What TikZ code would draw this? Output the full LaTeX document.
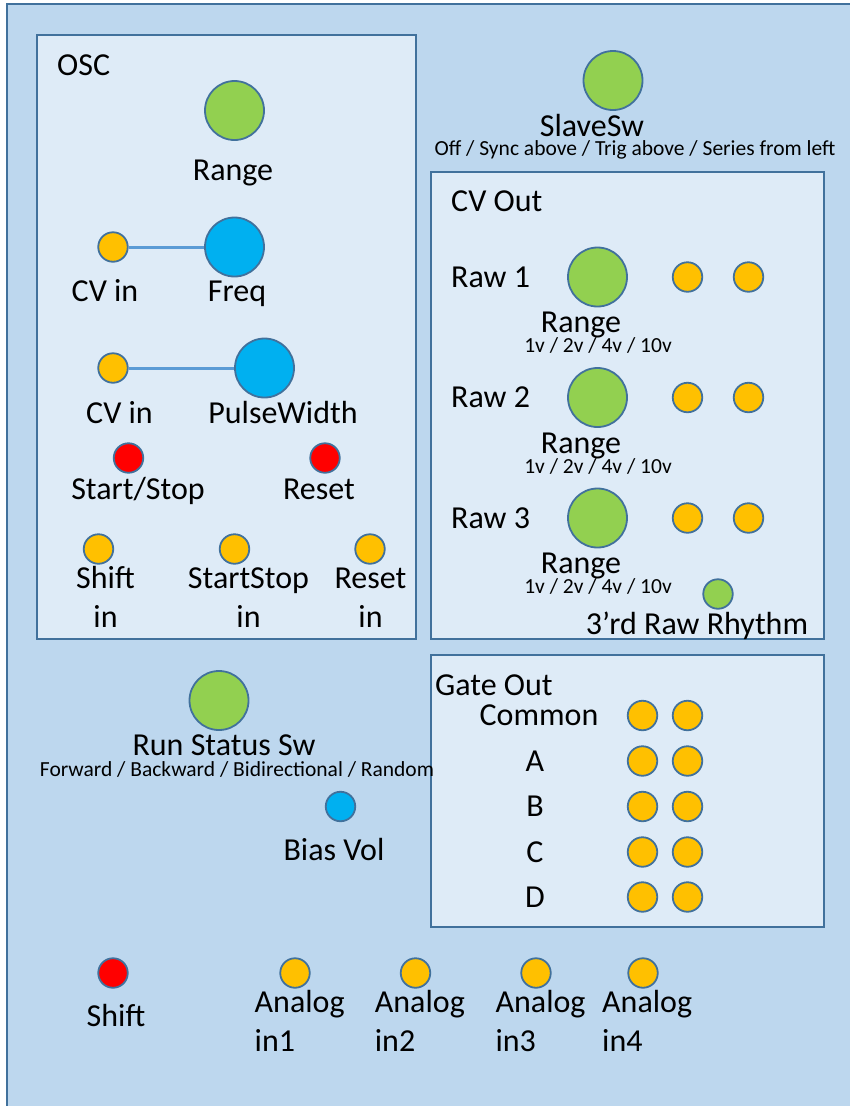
\documentclass[tikz,border=0pt]{standalone}
\usepackage{fontspec}
\setmainfont{Carlito}
\definecolor{panelfill}{RGB}{189,215,238}
\definecolor{boxfill}{RGB}{222,235,247}
\definecolor{panelline}{RGB}{65,113,156}
\definecolor{linkblue}{RGB}{91,155,213}
\definecolor{knobgreen}{RGB}{146,208,80}
\definecolor{knobblue}{RGB}{0,176,240}
\definecolor{jackorange}{RGB}{255,192,0}
\definecolor{btnred}{RGB}{255,0,0}

\begin{document}
\begin{tikzpicture}[x=1pt, y=-1pt,
  panel/.style={draw=panelline, line width=2pt},
  knob/.style={circle, draw=panelline, line width=1.8pt, minimum size=59pt, inner sep=0pt},
  jack/.style={circle, draw=panelline, line width=1.8pt, minimum size=29.5pt, inner sep=0pt, fill=jackorange},
  button/.style={jack, fill=btnred},
  lbl/.style={font=\fontsize{32}{39}\selectfont, inner sep=0pt, anchor=base},
  sublbl/.style={font=\fontsize{21.5}{24}\selectfont, inner sep=0pt, anchor=base},
  link/.style={draw=linkblue, line width=3pt}]
  \useasboundingbox (0,0) rectangle (849,1106);
  \fill[white] (0,0) rectangle (849,1106);

  % front panel, runs off the right and bottom edges
  \fill[panelfill] (7,4) rectangle (870,1130);
  \draw[panel] (7,1130) -- (7,4) -- (870,4);

  % sections
  \fill[boxfill] (37,35) rectangle (416,639);
  \draw[panel] (37,35) rectangle (416,639);
  \fill[boxfill] (431,172) rectangle (824,639);
  \draw[panel] (431,172) rectangle (824,639);
  \fill[boxfill] (431,655) rectangle (824,927);
  \draw[panel] (431,655) rectangle (824,927);

  % OSC
  \node[lbl, anchor=base west] (osc) at (57,75) {OSC};
  \node[knob, fill=knobgreen] (oscrange) at (234.5,110.5) {};
  \node[lbl] at (233,180.5) {Range};
  \node[jack] (cvfreq) at (113,247) {};
  \node[knob, fill=knobblue] (freq) at (234.5,247) {};
  \draw[link] (cvfreq) -- (freq);
  \node[lbl] at (105,301) {CV in};
  \node[lbl] at (237,301) {Freq};
  \node[jack] (cvpw) at (113,368) {};
  \node[knob, fill=knobblue] (pw) at (264.5,368) {};
  \draw[link] (cvpw) -- (pw);
  \node[lbl] at (119.5,423) {CV in};
  \node[lbl] at (283,423) {PulseWidth};
  \node[button] (startstop) at (128.5,458) {};
  \node[button] (reset) at (325,458) {};
  \node[lbl] at (138,499) {Start/Stop};
  \node[lbl] at (319,499) {Reset};
  \node[jack] (shiftin) at (98.5,549) {};
  \node[jack] (startstopin) at (234.5,549) {};
  \node[jack] (resetin) at (370,549) {};
  % two-line labels sit on the baseline of their last line
  \node[lbl, align=center] at (105.5,627) {Shift\\in};
  \node[lbl, align=center] at (248.5,627) {StartStop\\in};
  \node[lbl, align=center] at (370.5,627) {Reset\\in};

  % slave switch
  \node[knob, fill=knobgreen] (slavesw) at (613,80.5) {};
  \node[lbl] at (592,136) {SlaveSw};
  \node[sublbl] at (635,155) {Off / Sync above / Trig above / Series from left};

  % CV Out
  \node[lbl, anchor=base west] (cvout) at (451,211) {CV Out};
  \foreach \n/\y in {1/277, 2/397.5, 3/518} {
    \node[lbl, anchor=base west] (raw\n) at (451,\y+10) {Raw \n};
    \node[knob, fill=knobgreen] (rawrange\n) at (597.5,\y) {};
    \node[jack] (rawouta\n) at (687.5,\y) {};
    \node[jack] (rawoutb\n) at (748.5,\y) {};
    \node[lbl] at (581,\y+55.5) {Range};
    \node[sublbl] at (598,\y+75.5) {1v / 2v / 4v / 10v};
  }
  \node[knob, fill=knobgreen, minimum size=29.5pt] (rhythm) at (718,594) {};
  \node[lbl] at (697,634) {3’rd Raw Rhythm};

  % Gate Out
  \node[lbl, anchor=base west] (gateout) at (435,695) {Gate Out};
  \foreach \g/\y in {common/715.5, a/761, b/806.5, c/852, d/897} {
    \node[jack] (gate\g a) at (642.5,\y) {};
    \node[jack] (gate\g b) at (687.5,\y) {};
  }
  \node[lbl] at (539,725) {Common};
  \foreach \t/\y in {A/761, B/806.5, C/852, D/897}
    \node[lbl] at (535,\y+10) {\t};

  % run status and bias
  \node[knob, fill=knobgreen] (runsw) at (219,700.5) {};
  \node[lbl] at (224,755) {Run Status Sw};
  \node[sublbl] at (237,776) {Forward / Backward / Bidirectional / Random};
  \node[jack, fill=knobblue] (bias) at (340.5,806.5) {};
  \node[lbl] at (334,860) {Bias Vol};

  % bottom row
  \node[button] (shift) at (113,973) {};
  \node[lbl] at (116,1026) {Shift};
  \foreach \i/\x/\tx in {1/295/254.5, 2/415.5/374.7, 3/536/495.4, 4/643/602} {
    \node[jack] (analog\i) at (\x,973) {};
    \node[lbl, anchor=base west, align=left] at (\tx,1051) {Analog\\in\i};
  }
\end{tikzpicture}
\end{document}
